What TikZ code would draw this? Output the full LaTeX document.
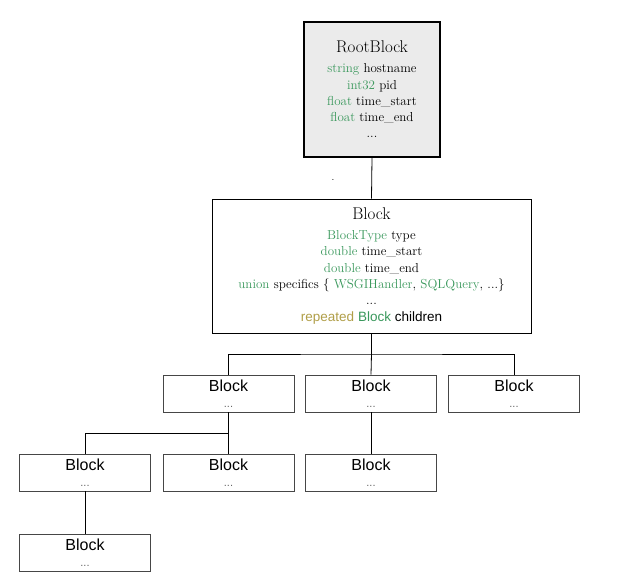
\documentclass[tikz,border=0pt]{standalone}
\usepackage{fontspec}
\newfontfamily\hel{Liberation Sans}
\definecolor{kw}{RGB}{58,152,92}
\definecolor{rep}{RGB}{176,158,72}
\definecolor{rootfill}{RGB}{235,235,235}
\definecolor{boxline}{RGB}{70,70,70}
\begin{document}
\begin{tikzpicture}[x=1pt,y=-1pt,
  bigbox/.style={draw=black, inner sep=0pt, align=center, font=\fontsize{13}{16.3}\selectfont},
  smallbox/.style={draw=boxline, line width=0.8pt, minimum width=131pt, minimum height=37pt, inner sep=0pt, align=center},
  conn/.style={draw=black, line width=0.8pt}]
\useasboundingbox (0,0) rectangle (638,582);
\node[bigbox, line width=2pt, fill=rootfill, minimum width=136pt, minimum height=135pt] (root) at (372,89.5)
  {{\fontsize{17}{20}\selectfont RootBlock}\\[3.5pt]
   \textcolor{kw}{string} hostname\\
   \textcolor{kw}{int32} pid\\
   \textcolor{kw}{float} time\_start\\
   \textcolor{kw}{float} time\_end\\
   ...};
\node[bigbox, line width=0.8pt, minimum width=319pt, minimum height=134pt] (block) at (371.5,266)
  {{\fontsize{17}{20}\selectfont Block}\\[3.5pt]
   \textcolor{kw}{BlockType} type\\
   \textcolor{kw}{double} time\_start\\
   \textcolor{kw}{double} time\_end\\
   \textcolor{kw}{union} specifics \{ \textcolor{kw}{WSGIHandler}, \textcolor{kw}{SQLQuery}, ...\}\\
   ...\\
   {\hel\fontsize{13.5}{16}\selectfont\textcolor{rep}{repeated} \textcolor{kw}{Block} children}};
\node[font=\fontsize{10}{12}\selectfont, inner sep=0pt] (dot) at (333,180) {.};
\newcommand{\blk}{{\hel\fontsize{16}{18}\selectfont Block}\\[4pt]{\hel\fontsize{11}{12}\selectfont\textcolor{black!60}{...}}}
\node[smallbox] (A) at (228.5,393.5) {\blk};
\node[smallbox] (B) at (371,393.5) {\blk};
\node[smallbox] (C) at (514,393.5) {\blk};
\node[smallbox] (D) at (85,472.5) {\blk};
\node[smallbox] (E) at (228.5,472.5) {\blk};
\node[smallbox] (F) at (371,472.5) {\blk};
\node[smallbox] (G) at (85,552.5) {\blk};
\coordinate (j1) at (371.5,354);
\coordinate (j2) at (228.5,433);
\draw[conn] (root.south) -- (block.north);
\draw[conn] (block.south) -- (j1);
\draw[conn] (A.north) |- (j1) -| (C.north);
\draw[conn] (j1) -- (B.north);
\draw[conn] (A.south) -- (E.north);
\draw[conn] (D.north) |- (j2);
\draw[conn] (B.south) -- (F.north);
\draw[conn] (D.south) -- (G.north);
\end{tikzpicture}
\end{document}
